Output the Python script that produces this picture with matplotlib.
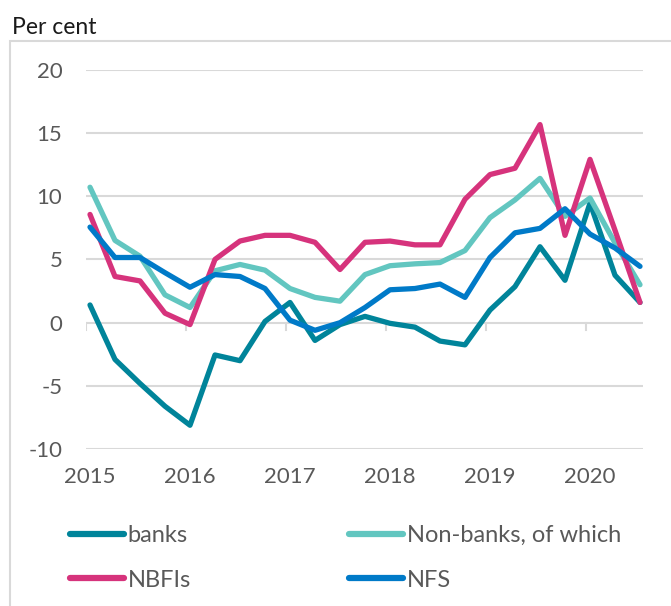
import numpy as np
import matplotlib
matplotlib.use("Agg")
import matplotlib.pyplot as plt
from matplotlib.patches import Rectangle
from matplotlib.lines import Line2D

years = ["2015", "2016", "2017", "2018", "2019", "2020"]
quarters = [f"{y}Q{q}" for y in years for q in range(1, 5)][:23]

banks = [1.4, -2.9, -4.8, -6.6, -8.1, -2.55, -3.0, 0.1, 1.6, -1.4, -0.15, 0.5,
         -0.05, -0.35, -1.45, -1.75, 1.0, 2.85, 6.0, 3.35, 9.45, 3.75, 1.6]
nonbanks = [10.7, 6.5, 5.25, 2.2, 1.2, 4.1, 4.6, 4.15, 2.7, 2.0, 1.7, 3.8,
            4.5, 4.65, 4.75, 5.7, 8.3, 9.7, 11.4, 8.4, 9.85, 6.3, 3.0]
nbfis = [8.55, 3.65, 3.3, 0.75, -0.15, 5.0, 6.45, 6.9, 6.9, 6.35, 4.2, 6.35,
         6.45, 6.15, 6.15, 9.75, 11.7, 12.2, 15.65, 6.9, 12.9, 7.3, 1.6]
nfs = [7.55, 5.15, 5.15, 3.95, 2.8, 3.8, 3.65, 2.7, 0.2, -0.6, 0.0, 1.2,
       2.6, 2.7, 3.05, 2.0, 5.15, 7.1, 7.45, 9.0, 7.0, 5.9, 4.45]

series = [("banks", banks, "#00849a"),
          ("Non-banks, of which", nonbanks, "#62c6c0"),
          ("NBFIs", nbfis, "#d6337c"),
          ("NFS", nfs, "#007ac8")]

plt.rcParams["font.family"] = ["Lato", "DejaVu Sans"]
plt.rcParams["axes.unicode_minus"] = False
grid_col = "#d9d9d9"
text_col = "#595959"

fig = plt.figure(figsize=(6.71, 6.06), dpi=100)
ax = fig.add_axes([86 / 671, 1 - 449.3 / 606, 557 / 671, 379.8 / 606])

# outer frame of the chart
fig.patches.append(Rectangle((9.5 / 671, -0.1), 1.2, 1 - 41 / 606 + 0.1,
                             transform=fig.transFigure, fill=False,
                             edgecolor=grid_col, lw=1.5, zorder=0))

x = np.arange(len(quarters))
for name, vals, col in series:
    ax.plot(x, vals, color=col, lw=3.8, solid_joinstyle="round",
            solid_capstyle="round", label=name)

ax.set_ylim(-10, 20)
ax.set_xlim(-0.16, 22.12)
ax.set_yticks(np.arange(-10, 21, 5))
ax.yaxis.grid(True, color=grid_col, lw=1.5)
ax.set_axisbelow(True)
for s in ax.spines.values():
    s.set_visible(False)

year_pos = [quarters.index(y + "Q1") for y in years]
ax.set_xticks(year_pos)
ax.set_xticklabels(years)
ax.tick_params(axis="both", length=0, labelsize=16, labelcolor=text_col)
ax.tick_params(axis="y", pad=17)
ax.tick_params(axis="x", pad=13)

# tick marks on the zero line
for p in year_pos:
    ax.plot([p - 0.16, p - 0.16], [0, -0.55], color=grid_col, lw=1.5, zorder=1)

fig.text(12 / 671, 1 - 34 / 606, "Per cent", fontsize=16.5, color="#1a1a1a",
         ha="left", va="baseline")

handles = {name: Line2D([], [], color=col, lw=4.5, solid_capstyle="round")
           for name, _, col in series}
leg_kw = dict(frameon=False, fontsize=17, handlelength=2.3, handletextpad=0.15,
              labelspacing=1.0, labelcolor=text_col, borderpad=0, borderaxespad=0,
              loc="upper left")
fig.legend([handles["banks"], handles["NBFIs"]], ["banks", "NBFIs"],
           bbox_to_anchor=(70 / 671, 1 - 525 / 606), **leg_kw)
fig.legend([handles["Non-banks, of which"], handles["NFS"]],
           ["Non-banks, of which", "NFS"],
           bbox_to_anchor=(349 / 671, 1 - 525 / 606), **leg_kw)

fig.savefig("out.png", dpi=100)
